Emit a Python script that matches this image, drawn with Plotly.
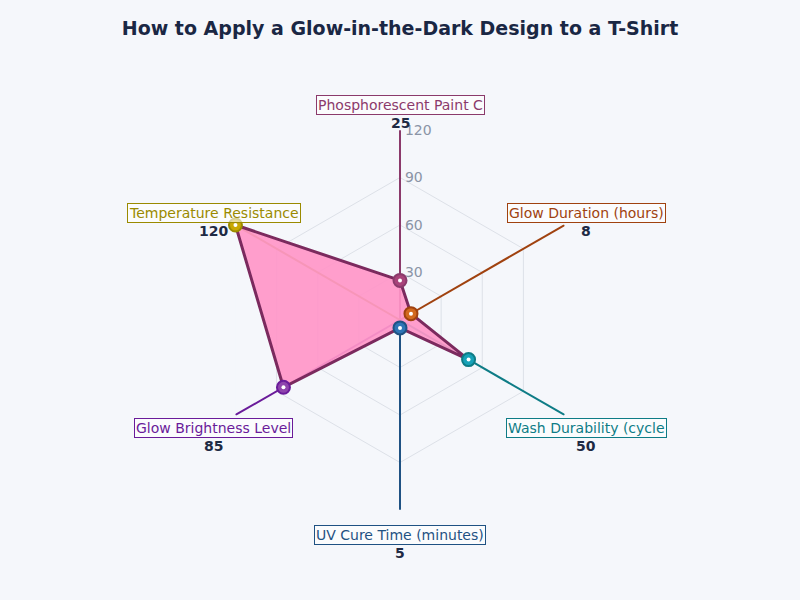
"""Radar chart: glow-in-the-dark T-shirt design parameters."""

import math

import plotly.graph_objects as go

# Data
categories = [
    "Phosphorescent Paint C",
    "Glow Duration (hours)",
    "Wash Durability (cycle",
    "UV Cure Time (minutes)",
    "Glow Brightness Level",
    "Temperature Resistance",
]
values = [25, 8, 50, 5, 85, 120]
value_labels = ["25", "8", "50", "5", "85", "120"]
radial_ticks = [30, 60, 90, 120]

# Per-axis colours (spoke/label, marker fill)
axis_colors = ["#8B3A6B", "#A0420F", "#0E7C86", "#1F5283", "#6A1B9A", "#9A8A00"]
marker_fills = ["#A8437A", "#D2691E", "#17A2B8", "#2E75B6", "#8E44AD", "#C9A800"]

R_MAX = 120
BG = "#F5F7FB"

# Layout geometry (pixels in an 800x600 page)
W, H = 800, 600
M_L, M_R, M_T, M_B = 40, 40, 60, 60
CX, CY, RAD = 400, 320, 190
plot_w, plot_h = W - M_L - M_R, H - M_T - M_B


def to_paper(px, py):
    return (px - M_L) / plot_w, (H - py - M_B) / plot_h


x0, y0 = to_paper(CX - RAD, CY + RAD)
x1, y1 = to_paper(CX + RAD, CY - RAD)

fig = go.Figure()

# Coloured spokes, one per axis
for cat, col in zip(categories, axis_colors):
    fig.add_trace(go.Scatterpolar(
        r=[0, R_MAX],
        theta=[cat, cat],
        mode="lines",
        line=dict(color=col, width=2),
        hoverinfo="skip",
        showlegend=False,
    ))

# Filled polygon
fig.add_trace(go.Scatterpolar(
    r=values + values[:1],
    theta=categories + categories[:1],
    mode="lines",
    fill="toself",
    fillcolor="rgba(255,150,200,0.92)",
    line=dict(color="#7B2A5E", width=3),
    showlegend=False,
    hovertemplate="%{theta}: %{r}<extra></extra>",
))

# Ring markers
fig.add_trace(go.Scatterpolar(
    r=values,
    theta=categories,
    mode="markers",
    marker=dict(size=13, color=marker_fills, line=dict(color=axis_colors, width=2)),
    showlegend=False,
    hoverinfo="skip",
))
fig.add_trace(go.Scatterpolar(
    r=values,
    theta=categories,
    mode="markers",
    marker=dict(size=4, color="white"),
    showlegend=False,
    hoverinfo="skip",
))

# Axis labels and values just outside the outer hexagon
annotations = []
label_rad = 215
for i, (cat, col, val) in enumerate(zip(categories, axis_colors, value_labels)):
    ang = math.radians(90 - 60 * i)
    px = CX + label_rad * math.cos(ang)
    py = CY - label_rad * math.sin(ang)
    ax, ay = to_paper(px, py)
    annotations.append(dict(
        x=ax, y=ay, xref="paper", yref="paper",
        text=cat, showarrow=False,
        font=dict(size=14, color=col),
        bordercolor=col, borderwidth=1, borderpad=1,
        bgcolor="rgba(255,255,255,0.6)",
        xanchor="center", yanchor="middle",
    ))
    annotations.append(dict(
        x=ax, y=ay, xref="paper", yref="paper",
        text=f"<b>{val}</b>", showarrow=False,
        font=dict(size=14, color="#1E2A44"),
        xanchor="center", yanchor="middle", yshift=-18,
    ))

fig.update_layout(
    width=W,
    height=H,
    paper_bgcolor=BG,
    plot_bgcolor=BG,
    font=dict(family="DejaVu Sans, sans-serif"),
    title=dict(
        text="<b>How to Apply a Glow-in-the-Dark Design to a T-Shirt</b>",
        x=0.5, y=0.953, xanchor="center", yanchor="middle",
        font=dict(size=19, color="#1A2744"),
    ),
    margin=dict(l=M_L, r=M_R, t=M_T, b=M_B),
    showlegend=False,
    annotations=annotations,
    polar=dict(
        domain=dict(x=[x0, x1], y=[y0, y1]),
        bgcolor=BG,
        gridshape="linear",
        radialaxis=dict(
            range=[0, R_MAX],
            tickvals=radial_ticks,
            ticktext=["\u00a0" + str(t) for t in radial_ticks],
            angle=90,
            tickangle=90,
            showline=False,
            ticks="",
            tickfont=dict(size=14, color="#8A94A6"),
            gridcolor="#DDE1E8",
            gridwidth=1,
        ),
        angularaxis=dict(
            rotation=90,
            direction="clockwise",
            showticklabels=False,
            ticks="",
            showline=False,
            gridcolor="#DDE1E8",
        ),
    ),
)

# drop the browser's default body margin so the background fills the page
fig.write_html(
    "out.html",
    config={"displayModeBar": False},
    post_script=f"document.body.style.margin='0'; document.body.style.background='{BG}';",
)
